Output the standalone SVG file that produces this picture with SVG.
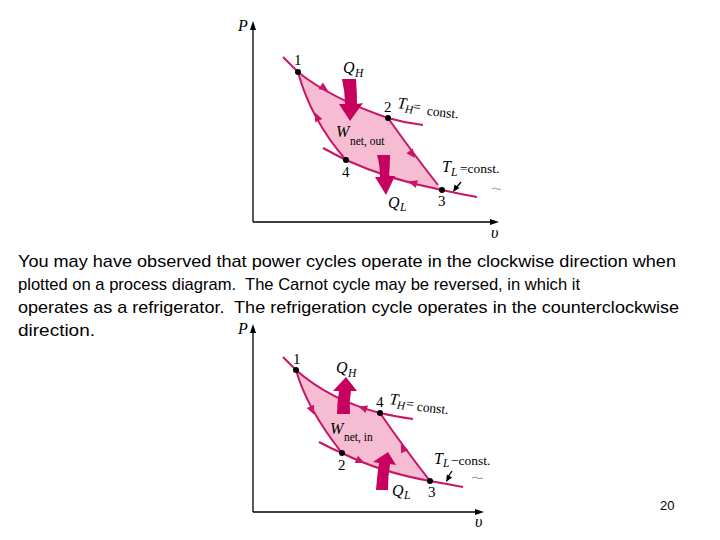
<svg xmlns="http://www.w3.org/2000/svg" width="720" height="540" viewBox="0 0 720 540">
<style>
.ax{stroke:#000;stroke-width:1.3;fill:none}
.cv{stroke:#c8156a;stroke-width:2;fill:none}
.fl{fill:#f6bcd2;stroke:none}
.qa{fill:#c8005f;stroke:none}
.ah{fill:#c8156a}
.pt{fill:#000}
.num{font-family:"Liberation Serif",serif;font-size:15px;fill:#000}
.it{font-family:"Liberation Serif",serif;font-style:italic;font-size:16px;fill:#000}
.sub{font-family:"Liberation Serif",serif;font-size:11.5px;fill:#000}
.lbl{font-family:"Liberation Serif",serif;font-size:13.5px;fill:#000}
.body{font-family:"Liberation Sans",Arial,sans-serif;font-size:17px;fill:#000;white-space:pre}
.pg{font-family:"Liberation Sans",Arial,sans-serif;font-size:13px;fill:#000}
</style>
<defs>
<path id="ah" d="M5,0 L-4,-4 L-4,4 Z"/>
<path id="kh" d="M0,0 L-7,-3 L-7,3 Z"/>
</defs>

<g id="text-block">
<text class="body" x="18" y="267" textLength="658" lengthAdjust="spacingAndGlyphs">You may have observed that power cycles operate in the clockwise direction when</text>
<text class="body" x="18" y="290" textLength="562" lengthAdjust="spacingAndGlyphs">plotted on a process diagram.  The Carnot cycle may be reversed, in which it</text>
<text class="body" x="18" y="313" textLength="661" lengthAdjust="spacingAndGlyphs">operates as a refrigerator.  The refrigeration cycle operates in the counterclockwise</text>
<text class="body" x="18" y="336" textLength="77" lengthAdjust="spacingAndGlyphs">direction.</text>
</g>

<g id="page-number"><text class="pg" x="660" y="510">20</text></g>

<!-- ============ TOP DIAGRAM (power cycle) ============ -->
<g id="top-axes">
<path class="ax" d="M253,222 L253,29 M253,222 L492,222"/>
<path d="M253,21 L250,30 L256,30 Z" fill="#000"/>
<path d="M499,222 L490,219 L490,225 Z" fill="#000"/>
<text class="it" x="238" y="31" font-size="14">P</text>
<text class="it" x="491" y="238" font-size="14">υ</text>
</g>

<g id="top-cycle-fill">
<path class="fl" d="M298,72 Q330,98 388,118 Q415,156 442,190 Q390,180 346,160 Q311,120 298,72 Z"/>
</g>

<g id="top-connectors">
<path class="cv" d="M283,57 Q290,64 298,72 Q330,98 388,118 Q405,123 423,125"/>
<path class="cv" d="M323,148 Q334,154 346,160 Q390,180 442,190 Q460,194 477,197"/>
<path class="cv" d="M298,72 Q311,120 346,160"/>
<path class="cv" d="M388,118 Q415,156 438,185"/>
<use href="#ah" class="ah" transform="translate(324,88) rotate(33)"/>
<use href="#ah" class="ah" transform="translate(317,117) rotate(-115)"/>
<use href="#ah" class="ah" transform="translate(412,154) rotate(53)"/>
<use href="#ah" class="ah" transform="translate(413,183) rotate(196)"/>
</g>

<g id="top-QH">
<path class="qa" d="M342,79 L356,79 Q357,92 357,104 L363,103 L350,121 L339,104 L345,104 Q345,92 342,79 Z"/>
<text class="it" x="343" y="73">Q</text><text class="sub" x="355" y="77" font-style="italic">H</text>
</g>
<g id="top-QL">
<path class="qa" d="M377,155 L390,155 Q390,166 389,176 L395,176 L386,195 L375,177 L380,177 Q380,165 377,155 Z"/>
<text class="it" x="388" y="208">Q</text><text class="sub" x="400" y="211" font-style="italic">L</text>
</g>
<g id="top-W">
<text class="it" x="336" y="137">W</text><text class="sub" x="350" y="145">net, out</text>
</g>

<g id="top-p1"><circle class="pt" cx="298" cy="72" r="3"/><text class="num" x="294" y="65">1</text></g>
<g id="top-p2"><circle class="pt" cx="388" cy="118" r="3"/><text class="num" x="384" y="112">2</text></g>
<g id="top-p3"><circle class="pt" cx="442" cy="190" r="3"/><text class="num" x="438" y="206">3</text></g>
<g id="top-p4"><circle class="pt" cx="346" cy="160" r="3"/><text class="num" x="342" y="177">4</text></g>

<g id="top-TH" transform="rotate(6 397 108)">
<text class="it" x="397" y="108" font-size="14">T</text><text class="sub" x="405" y="112" font-style="italic" font-size="10">H</text>
<text class="lbl" x="413" y="109" font-size="9">=</text>
<text class="lbl" x="427" y="112">const.</text>
</g>
<g id="top-TL">
<text class="it" x="442" y="172" font-size="14">T</text><text class="sub" x="451" y="176" font-style="italic" font-size="10">L</text>
<text class="lbl" x="460" y="173">=const.</text>
<path class="ax" d="M461,182 L456,188" stroke-width="1"/>
<use href="#kh" transform="translate(453,192) rotate(125)"/>
<path d="M492,189 q3,-2 5,0 q2,1 4,0" stroke="#777" stroke-width="0.8" fill="none"/>
</g>

<!-- ============ BOTTOM DIAGRAM (refrigeration cycle) ============ -->
<g id="bottom-axes">
<path class="ax" d="M253,512 L253,332 M253,512 L477,512"/>
<path d="M253,324 L250,333 L256,333 Z" fill="#000"/>
<path d="M484,512 L475,509 L475,515 Z" fill="#000"/>
<text class="it" x="238" y="334" font-size="14">P</text>
<text class="it" x="475" y="527" font-size="14">υ</text>
</g>

<g id="bottom-cycle-fill">
<path class="fl" d="M296,370 Q330,400 380,413 Q402,445 430,481 Q380,472 342,453 Q307,409 296,370 Z"/>
</g>

<g id="bottom-connectors">
<path class="cv" d="M283,357 Q289,363 296,370 Q330,400 380,413 Q398,417 413,419"/>
<path class="cv" d="M319,442 Q330,448 342,453 Q380,472 430,481 Q447,484 463,487"/>
<path class="cv" d="M296,370 Q307,409 342,453"/>
<path class="cv" d="M380,413 Q402,445 430,481"/>
<use href="#ah" class="ah" transform="translate(312,410) rotate(67)"/>
<use href="#ah" class="ah" transform="translate(360,461) rotate(24)"/>
<use href="#ah" class="ah" transform="translate(403,448) rotate(-115)"/>
<use href="#ah" class="ah" transform="translate(363,408) rotate(198)"/>
</g>

<g id="bottom-QH">
<path class="qa" d="M337,414 L350,414 Q349,402 351,391 L357,391 L346,377 L333,391 L339,391 Q337,403 337,414 Z"/>
<text class="it" x="336" y="373">Q</text><text class="sub" x="348" y="377" font-style="italic">H</text>
</g>
<g id="bottom-QL">
<path class="qa" d="M376,490 L388,490 Q388,476 390,464 L396,465 L388,452 L373,462 L379,463 Q377,476 376,490 Z"/>
<text class="it" x="392" y="496">Q</text><text class="sub" x="404" y="499" font-style="italic">L</text>
</g>
<g id="bottom-W">
<text class="it" x="330" y="434">W</text><text class="sub" x="344" y="441">net, in</text>
</g>

<g id="bottom-p1"><circle class="pt" cx="296" cy="370" r="3"/><text class="num" x="293" y="364">1</text></g>
<g id="bottom-p2"><circle class="pt" cx="342" cy="453" r="3"/><text class="num" x="338" y="470">2</text></g>
<g id="bottom-p3"><circle class="pt" cx="430" cy="481" r="3"/><text class="num" x="428" y="497">3</text></g>
<g id="bottom-p4"><circle class="pt" cx="380" cy="413" r="3"/><text class="num" x="376" y="407">4</text></g>

<g id="bottom-TH" transform="rotate(6 390 404)">
<text class="it" x="389" y="404" font-size="14">T</text><text class="sub" x="397" y="408" font-style="italic" font-size="10">H</text>
<text class="lbl" x="406" y="406">=</text>
<text class="lbl" x="417" y="408">const.</text>
</g>
<g id="bottom-TL">
<text class="it" x="434" y="464" font-size="12">T</text><text class="sub" x="443" y="467" font-style="italic" font-size="9">L</text>
<text class="lbl" x="451" y="465" font-size="11">−const.</text>
<path class="ax" d="M452,471 L448,477" stroke-width="1"/>
<use href="#kh" transform="translate(446,482) rotate(120)"/>
<path d="M472,478 q3,-2 5,0 q3,1 6,0" stroke="#777" stroke-width="0.8" fill="none"/>
</g>
</svg>
